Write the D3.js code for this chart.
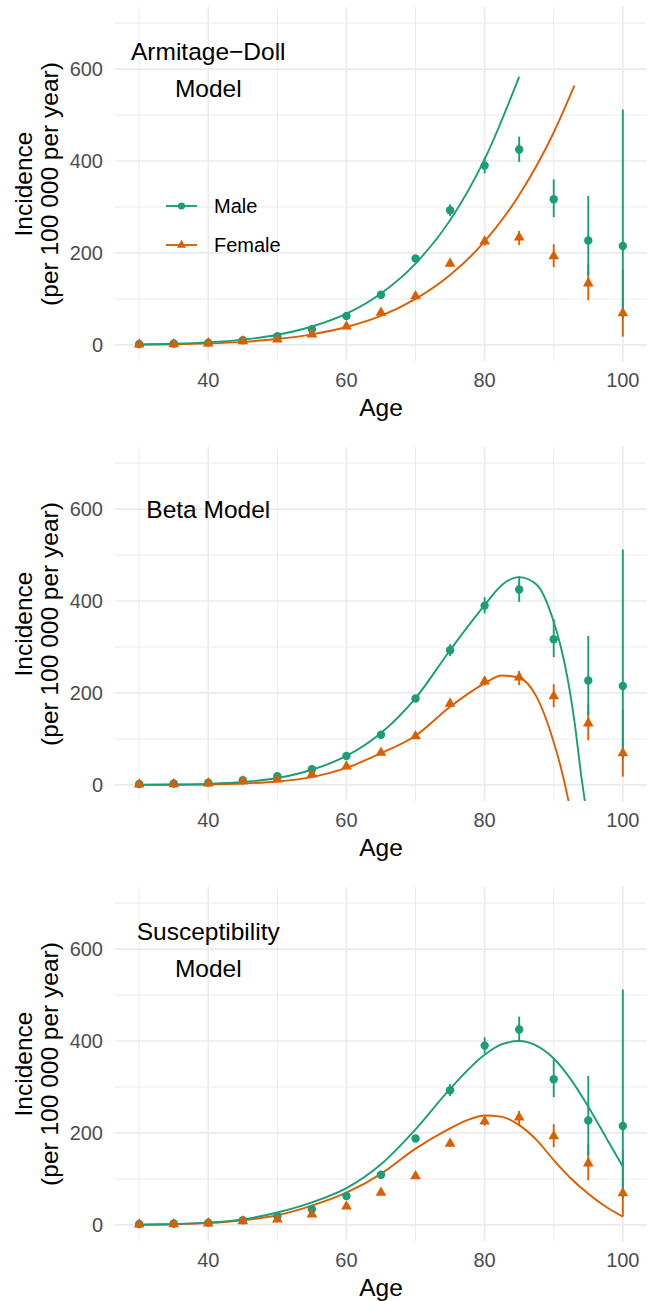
<!DOCTYPE html>
<html>
<head>
<meta charset="utf-8">
<script src="https://cdn.jsdelivr.net/npm/d3@7"></script>
<style>
  body { margin: 0; background: #fff; }
  svg { display: block; font-family: 'Liberation Sans', Arial, Helvetica, sans-serif; }
</style>
</head>
<body>
<div id="chart"></div>
<script>
// observed incidence, per 100 000 per year
var ages = [30, 35, 40, 45, 50, 55, 60, 65, 70, 75, 80, 85, 90, 95, 100]
var maleRate = [2, 3, 5, 10, 19, 34, 63, 109, 188, 293, 390, 425, 317, 227, 215]
var maleLow = [1, 2, 4, 8, 17, 31, 58, 103, 181, 280, 373, 398, 278, 152, 58]
var maleHigh = [3, 4, 6, 12, 21, 37, 68, 115, 195, 306, 408, 453, 360, 324, 512]
var femaleRate = [1, 1.5, 3.5, 8, 12, 23, 40, 70, 106, 177, 225, 234, 193, 134, 69]
var femaleLow = [0.5, 1, 2.5, 7, 11, 21, 37, 66, 101, 170, 216, 217, 169, 97, 18]
var femaleHigh = [1.5, 2, 4.5, 9, 13, 25, 43, 74, 111, 184, 235, 248, 219, 174, 164]

// fitted curves
var adMaleAges = [30, 35, 40, 45, 50, 55, 60, 65, 70, 75, 80, 85]
var adMale = [0.9, 2.4, 5.5, 11.4, 22, 40, 68, 112, 177, 271, 404, 583]
var adFemaleAges = [30, 35, 40, 45, 50, 55, 60, 65, 70, 75, 80, 85, 90, 93]
var adFemale = [0.6, 1.5, 3.3, 6.7, 12.8, 23, 39, 63, 100, 152, 225, 326, 462, 564]

var betaMaleAges = [30, 35, 40, 45, 50, 55, 60, 65, 70, 75, 80, 82.5, 85, 87.5, 90, 91, 92, 93, 94, 94.6]
var betaMale = [0.2, 0.8, 2.3, 6.2, 15, 33, 63, 113, 189, 293, 391, 435, 452, 436, 355, 302, 232, 138, 18, -45]
var betaFemaleAges = [30, 35, 40, 45, 50, 55, 60, 65, 70, 75, 80, 82.5, 85, 87.5, 90, 91, 92, 92.6]
var betaFemale = [0.1, 0.3, 1, 3, 7.5, 17, 37, 69, 107, 170, 221, 238, 233, 192, 93, 40, -25, -70]

var suscMaleAges = [30, 35, 40, 45, 50, 55, 60, 65, 70, 75, 80, 82.5, 85, 87.5, 90, 92.5, 95, 97.5, 100]
var suscMale = [0.5, 2, 5, 12, 27, 49, 80, 132, 208, 296, 370, 393, 400, 390, 362, 316, 257, 192, 127]
var suscFemaleAges = [30, 35, 40, 45, 50, 55, 60, 65, 70, 75, 77.5, 80, 82.5, 85, 87.5, 90, 92.5, 95, 97.5, 100]
var suscFemale = [0.5, 1.5, 4, 10, 21, 42, 70, 111, 166, 210, 228, 238, 235, 217, 185, 141, 101, 68, 40, 18]

var panelTitles = [['Armitage\u2212Doll', 'Model'], ['Beta Model'], ['Susceptibility', 'Model']]
var xTicks = [40, 60, 80, 100]
var xMinor = [30, 50, 70, 90]
var yTicks = [0, 200, 400, 600]
var yMinor = [100, 300, 500, 700]
var seriesNames = ['Male', 'Female']

var models = [
  { male: [adMaleAges, adMale], female: [adFemaleAges, adFemale] },
  { male: [betaMaleAges, betaMale], female: [betaFemaleAges, betaFemale] },
  { male: [suscMaleAges, suscMale], female: [suscFemaleAges, suscFemale] }
]

var green = '#1B9E77'
var orange = '#D95F02'
var W = 649
var H = 1301
var left = 115
var right = 647
var panelH = 354
var tops = [7, 447, 887]

var svg = d3.select('#chart').append('svg')
  .attr('width', W)
  .attr('height', H)

var x = d3.scaleLinear().domain([26.5, 103.5]).range([left, right])

var tri = d3.symbol().type(d3.symbolTriangle).size(50)
var triSmall = d3.symbol().type(d3.symbolTriangle).size(36)

function zip (xs, ys) {
  return xs.map(function (a, i) { return [a, ys[i]] })
}

models.forEach(function (model, p) {
  var top = tops[p]
  var y = d3.scaleLinear().domain([-35, 735]).range([top + panelH, top])
  var g = svg.append('g')

  // grid
  g.selectAll('.ymin').data(yMinor).enter().append('line')
    .attr('x1', left).attr('x2', right)
    .attr('y1', function (d) { return y(d) }).attr('y2', function (d) { return y(d) })
    .attr('stroke', '#EBEBEB').attr('stroke-width', 1)
  g.selectAll('.xmin').data(xMinor).enter().append('line')
    .attr('y1', top).attr('y2', top + panelH)
    .attr('x1', function (d) { return x(d) }).attr('x2', function (d) { return x(d) })
    .attr('stroke', '#EBEBEB').attr('stroke-width', 1)
  g.selectAll('.ymaj').data(yTicks).enter().append('line')
    .attr('x1', left).attr('x2', right)
    .attr('y1', function (d) { return y(d) }).attr('y2', function (d) { return y(d) })
    .attr('stroke', '#EBEBEB').attr('stroke-width', 1.7)
  g.selectAll('.xmaj').data(xTicks).enter().append('line')
    .attr('y1', top).attr('y2', top + panelH)
    .attr('x1', function (d) { return x(d) }).attr('x2', function (d) { return x(d) })
    .attr('stroke', '#EBEBEB').attr('stroke-width', 1.7)

  // tick labels
  g.selectAll('.yt').data(yTicks).enter().append('text')
    .attr('x', 103).attr('y', function (d) { return y(d) })
    .attr('dy', '0.36em')
    .attr('text-anchor', 'end')
    .attr('fill', '#4D4D4D')
    .style('font-size', '20px')
    .text(function (d) { return d })
  g.selectAll('.xt').data(xTicks).enter().append('text')
    .attr('x', function (d) { return x(d) }).attr('y', top + panelH + 26.3)
    .attr('text-anchor', 'middle')
    .attr('fill', '#4D4D4D')
    .style('font-size', '20px')
    .text(function (d) { return d })

  // axis titles
  g.append('text')
    .attr('x', (left + right) / 2).attr('y', top + panelH + 55)
    .attr('text-anchor', 'middle')
    .style('font-size', '24.5px')
    .text('Age')
  var cy = top + panelH / 2
  g.append('text')
    .attr('transform', 'translate(31.5,' + cy + ') rotate(-90)')
    .attr('text-anchor', 'middle')
    .style('font-size', '24.5px')
    .text('Incidence')
  g.append('text')
    .attr('transform', 'translate(58,' + cy + ') rotate(-90)')
    .attr('text-anchor', 'middle')
    .style('font-size', '24.5px')
    .text('(per 100 000 per year)')

  // model title
  var lines = panelTitles[p]
  var mid = top + 71.35
  lines.forEach(function (t, i) {
    var off = (i - (lines.length - 1) / 2) * 36.7
    g.append('text')
      .attr('x', x(40)).attr('y', mid + off)
      .attr('text-anchor', 'middle')
      .style('font-size', '24.5px')
      .text(t)
  })

  // clipped plotting area
  var clipId = 'clip' + p
  svg.append('clipPath').attr('id', clipId).append('rect')
    .attr('x', left).attr('y', top).attr('width', right - left).attr('height', panelH)
  var plot = g.append('g').attr('clip-path', 'url(#' + clipId + ')')

  var line = d3.line()
    .x(function (d) { return x(d[0]) })
    .y(function (d) { return y(d[1]) })
    .curve(d3.curveMonotoneX)

  plot.append('path').datum(zip(model.female[0], model.female[1]))
    .attr('d', line).attr('fill', 'none').attr('stroke', orange).attr('stroke-width', 1.9)
  plot.append('path').datum(zip(model.male[0], model.male[1]))
    .attr('d', line).attr('fill', 'none').attr('stroke', green).attr('stroke-width', 1.9)

  // error bars
  plot.selectAll('.fe').data(ages).enter().append('line')
    .attr('x1', function (d) { return x(d) }).attr('x2', function (d) { return x(d) })
    .attr('y1', function (d, i) { return y(femaleLow[i]) })
    .attr('y2', function (d, i) { return y(femaleHigh[i]) })
    .attr('stroke', orange).attr('stroke-width', 1.9)
  plot.selectAll('.me').data(ages).enter().append('line')
    .attr('x1', function (d) { return x(d) }).attr('x2', function (d) { return x(d) })
    .attr('y1', function (d, i) { return y(maleLow[i]) })
    .attr('y2', function (d, i) { return y(maleHigh[i]) })
    .attr('stroke', green).attr('stroke-width', 1.9)

  // points
  plot.selectAll('.mp').data(ages).enter().append('circle')
    .attr('cx', function (d) { return x(d) })
    .attr('cy', function (d, i) { return y(maleRate[i]) })
    .attr('r', 4.2)
    .attr('fill', green)
  plot.selectAll('.fp').data(ages).enter().append('path')
    .attr('d', tri)
    .attr('transform', function (d, i) { return 'translate(' + x(d) + ',' + y(femaleRate[i]) + ')' })
    .attr('fill', orange)

  // legend (first panel only)
  if (p === 0) {
    var lg = g.append('g')
    var ly = [206, 245]
    seriesNames.forEach(function (name, i) {
      var col = i === 0 ? green : orange
      lg.append('line')
        .attr('x1', 166).attr('x2', 197).attr('y1', ly[i]).attr('y2', ly[i])
        .attr('stroke', col).attr('stroke-width', 1.9)
      if (i === 0) {
        lg.append('circle').attr('cx', 181.5).attr('cy', ly[i]).attr('r', 3.6).attr('fill', col)
      } else {
        lg.append('path').attr('d', triSmall)
          .attr('transform', 'translate(181.5,' + ly[i] + ')').attr('fill', col)
      }
      lg.append('text')
        .attr('x', 214).attr('y', ly[i])
        .attr('dy', '0.36em')
        .style('font-size', '20px')
        .text(name)
    })
  }
})
</script>
</body>
</html>
